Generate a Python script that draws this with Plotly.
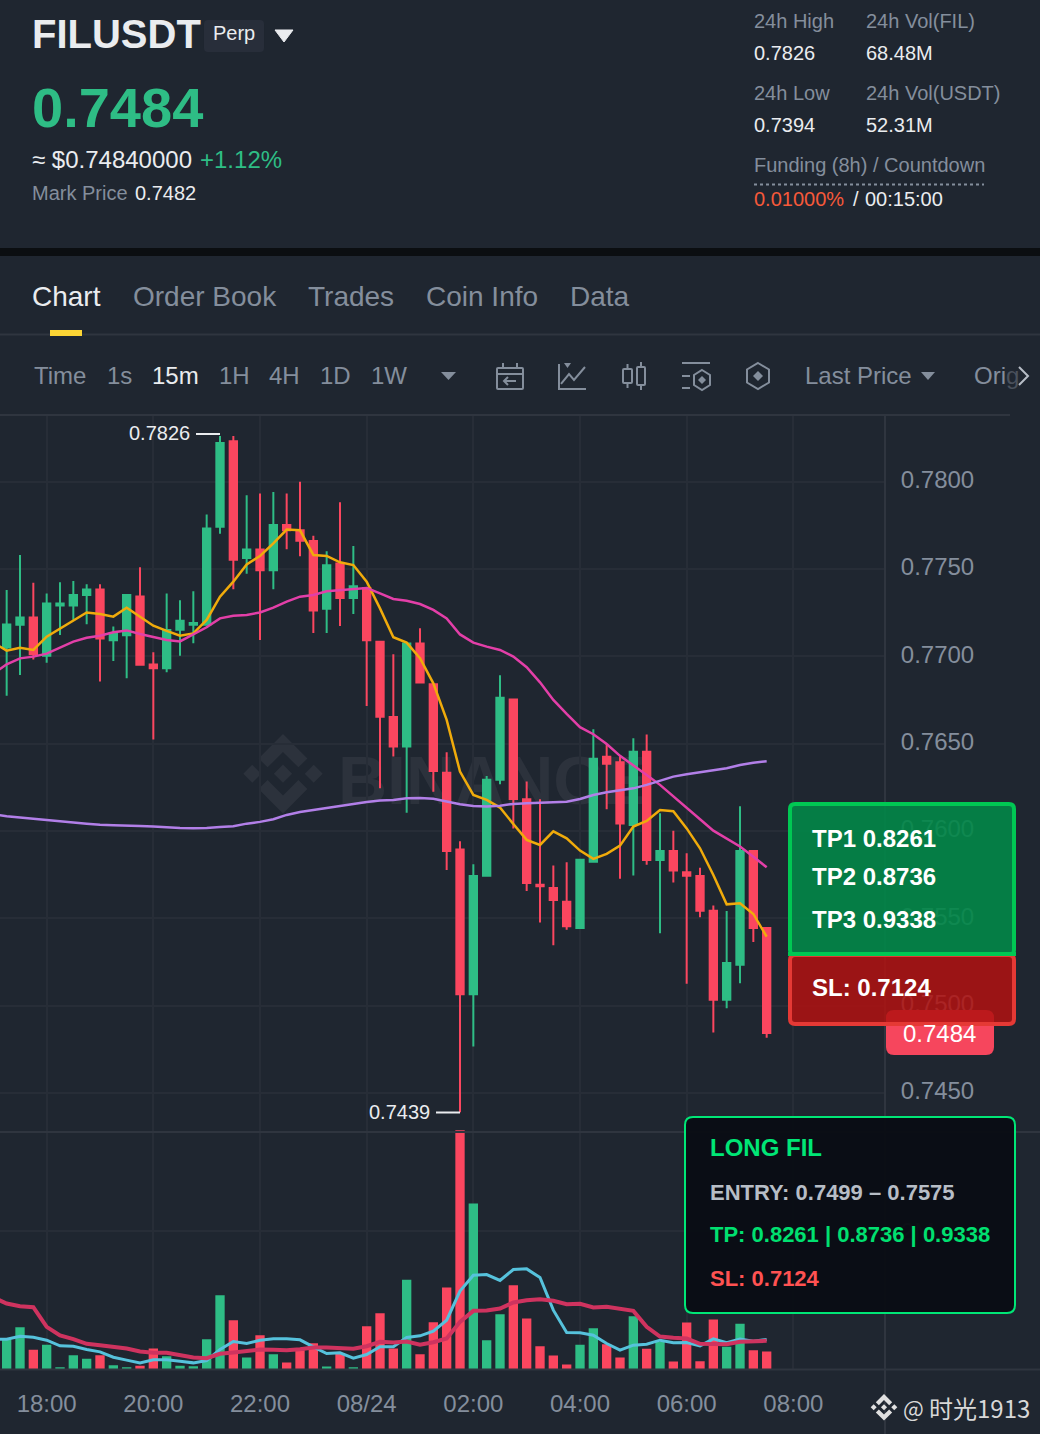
import pandas as pd
import plotly.graph_objects as go

W, H = 1040, 1434

BG = '#1f2630'
UP = '#2ebd85'
DOWN = '#fb465f'
GREY = '#848e9c'
LIGHT = '#eaecef'
GRID = '#272d37'
LINE = '#2f353f'

# 15 minute candles, first one at 17:15, last one at 07:30
times = pd.date_range('2025-08-23 17:15', periods=58, freq='15min')
ma_times = pd.date_range('2025-08-23 17:00', periods=59, freq='15min')

opens = [.77045, .77175, .77227, .76998, .77286, .77286, .77345, .77387, .77087, .77116,
         .77347, .76958, .76927, .77147, .77175, .77175, .77736, .78236, .77557, .77616,
         .77488, .77757, .77727, .77665, .77267, .77536, .77328, .77396, .77088, .76658,
         .76479, .77078, .76845, .76338, .75899, .75060, .75739, .76288, .76758, .76187,
         .75697, .75678, .75600, .75439, .75819, .76430, .76399, .76029, .76458, .75829,
         .75890, .75769, .75748, .75548, .75029, .75229, .75890, .75449]
highs = [.77379, .77580, .77421, .77360, .77423, .77431, .77412, .77412, .77171, .77356,
         .77509, .77023, .77360, .77320, .77372, .77812, .78261, .78261, .77921, .77931,
         .77940, .77931, .77999, .77690, .77601, .77881, .77631, .77396, .77088, .77011,
         .77078, .77160, .76845, .76451, .75941, .75809, .76315, .76891, .76758, .76283,
         .76181, .75802, .75821, .75840, .76582, .76498, .76426, .76531, .76552, .76101,
         .76002, .75872, .75790, .75573, .75542, .76141, .75890, .75449]
lows = [.76774, .76893, .76982, .76963, .77122, .77209, .77183, .76855, .76973, .76874,
        .76946, .76523, .76908, .77003, .77074, .77175, .77702, .77383, .77473, .77093,
        .77383, .77612, .77572, .77133, .77133, .77173, .77242, .76715, .76244, .76426,
        .76105, .76845, .76225, .75777, .7439, .74766, .75739, .76267, .76014, .75657,
        .75476, .75346, .75435, .75439, .75819, .76124, .75727, .75745, .75806, .75414,
        .75705, .75126, .75506, .74846, .74985, .75128, .75365, .74817]
closes = [.77187, .77227, .77007, .77307, .77307, .77356, .77387, .77097, .77137, .77356,
          .76946, .76927, .77156, .77208, .77196, .77736, .78226, .77547, .77616, .77488,
          .77757, .77717, .77656, .77257, .77526, .77328, .77406, .77087, .76649, .76479,
          .77078, .76845, .76338, .75880, .75060, .75748, .76298, .76767, .76178, .75697,
          .75678, .75600, .75449, .75840, .76418, .76380, .76038, .76458, .75829, .75890,
          .75769, .75739, .75538, .75029, .75250, .75890, .75439, .74838]

ma7 = [.77078, .77032, .77049, .77036, .77112, .77160, .77204, .77251, .77242, .77227, .77278,
       .77229, .77175, .77145, .77118, .77131, .77208, .77341, .77427, .77526, .77574,
       .77646, .77725, .77721, .77580, .77574, .77538, .77522, .77427, .77274, .77109,
       .77078, .76989, .76845, .76636, .76340, .76206, .76178, .76134, .76040, .75949,
       .75920, .75998, .75958, .75888, .75840, .75869, .75916, .76025, .76057, .76120,
       .76113, .76015, .75901, .75748, .75580, .75586, .75525, .75395]
ma25 = [.76900, .76954, .76988, .76998, .77015, .77051, .77084, .77106, .77118, .77137, .77148,
        .77127, .77108, .77093, .77085, .77127, .77166, .77217, .77232, .77236, .77251,
        .77278, .77313, .77341, .77351, .77372, .77379, .77387, .77391, .77360, .77328,
        .77318, .77299, .77265, .77217, .77125, .77078, .77055, .77036, .76998, .76937,
        .76851, .76750, .76670, .76594, .76554, .76498, .76430, .76378, .76321, .76264,
        .76197, .76130, .76067, .76002, .75958, .75911, .75853, .75792]
ma99 = [.76096, .76084, .76077, .76069, .76065, .76056, .76048, .76042, .76035, .76033, .76033,
        .76029, .76025, .76019, .76017, .76016, .76017, .76023, .76027, .76042, .76052,
        .76067, .76092, .76109, .76121, .76132, .76143, .76157, .76166, .76174, .76178,
        .76187, .76189, .76185, .76168, .76153, .76143, .76140, .76145, .76155, .76159,
        .76162, .76164, .76168, .76183, .76206, .76222, .76231, .76244, .76264, .76288,
        .76311, .76325, .76336, .76347, .76359, .76378, .76391, .76399]

# volume in millions
volumes = [.439, .612, .284, .357, .034, .207, .154, .207, .063, .034,
           .053, .304, .193, .053, .048, .439, 1.075, .713, .173, .496,
           .222, .101, .280, .381, .043, .231, .034, .627, .814, .304,
           1.296, .222, .684, 1.185, 3.460, 2.400, .424, .800, 1.219, .737,
           .337, .202, .072, .357, .598, .366, .173, .771, .299, .400,
           .116, .680, .120, .723, .328, .660, .280, .260]
vol_fast = [.439, .439, .482, .467, .424, .342, .337, .289, .255, .178, .135,
            .096, .140, .140, .120, .096, .130, .289, .405, .376, .424,
            .443, .443, .429, .328, .231, .241, .164, .217, .328, .328,
            .463, .487, .554, .713, 1.133, 1.364, 1.373, 1.287, 1.446, 1.455,
            1.330, .858, .535, .530, .496, .376, .280, .352, .366, .424,
            .386, .390, .342, .443, .386, .439, .410, .434]
vol_slow = [1.041, .954, .916, .901, .617, .492, .439, .371, .352, .333, .304,
            .260, .241, .241, .202, .173, .164, .227, .246, .265, .289,
            .284, .280, .294, .318, .318, .313, .299, .337, .400, .390,
            .405, .357, .395, .448, .689, .848, .853, .882, .969, 1.002,
            1.017, .993, .945, .949, .896, .906, .872, .848, .617, .477,
            .458, .448, .371, .371, .366, .400, .414, .414]

price_ticks = [.745, .75, .755, .76, .765, .77, .775, .78]
time_ticks = ['2025-08-23 18:00', '2025-08-23 20:00', '2025-08-23 22:00', '2025-08-24 00:00',
              '2025-08-24 02:00', '2025-08-24 04:00', '2025-08-24 06:00', '2025-08-24 08:00']
time_labels = ['18:00', '20:00', '22:00', '08/24', '02:00', '04:00', '06:00', '08:00']


def px(x):
    return x / W


def py(y):
    return 1 - y / H


def pts(points, close=False):
    d = 'M' + ' L'.join(f'{px(x):.5f},{py(y):.5f}' for x, y in points)
    return d + (' Z' if close else '')


def rrect(x0, y0, x1, y1, r):
    c = lambda x, y: f'{px(x):.5f},{py(y):.5f}'
    return (f'M{c(x0 + r, y0)} L{c(x1 - r, y0)} Q{c(x1, y0)} {c(x1, y0 + r)} '
            f'L{c(x1, y1 - r)} Q{c(x1, y1)} {c(x1 - r, y1)} '
            f'L{c(x0 + r, y1)} Q{c(x0, y1)} {c(x0, y1 - r)} '
            f'L{c(x0, y0 + r)} Q{c(x0, y0)} {c(x0 + r, y0)} Z')


shapes = []
annotations = []


def path(d, fill=None, color=None, width=0, layer='above'):
    shapes.append(dict(type='path', xref='paper', yref='paper', path=d, layer=layer,
                       fillcolor=fill if fill else 'rgba(0,0,0,0)',
                       line=dict(color=color if color else 'rgba(0,0,0,0)', width=width)))


def hline(x0, x1, y, color=LINE, width=2, dash='solid', layer='above'):
    shapes.append(dict(type='line', xref='paper', yref='paper', layer=layer,
                       x0=px(x0), x1=px(x1), y0=py(y), y1=py(y),
                       line=dict(color=color, width=width, dash=dash)))


def label(text, x, y, size, color=LIGHT, bold=False, anchor='left', family='Liberation Sans'):
    # annotations keep about 1px of padding, hence x - 1
    annotations.append(dict(text=f'<b>{text}</b>' if bold else text, x=px(x - 1), y=py(y),
                            xref='paper', yref='paper', xanchor=anchor, yanchor='middle',
                            showarrow=False, borderpad=0,
                            font=dict(size=size, color=color, family=family)))


def logo(x0, y0, s, fill, layer='above'):
    parts = [
        [(38.73, 53.2), (63.31, 28.63), (87.9, 53.22), (102.2, 38.92), (63.31, 0), (24.42, 38.9)],
        [(0, 63.31), (14.3, 49), (28.61, 63.3), (14.3, 77.6)],
        [(38.73, 73.41), (63.31, 97.99), (87.9, 73.41), (102.2, 87.7), (63.31, 126.61), (24.42, 87.7)],
        [(98, 63.31), (112.3, 49), (126.61, 63.31), (112.3, 77.61)],
        [(77.83, 63.3), (63.31, 48.78), (48.79, 63.28), (63.31, 77.79)],
    ]
    for part in parts:
        path(pts([(x0 + a * s, y0 + b * s) for a, b in part], close=True), fill=fill, layer=layer)


# header
shapes.append(dict(type='rect', xref='paper', yref='paper', x0=0, x1=1, y0=py(256), y1=py(248),
                   fillcolor='#0b0e11', line_width=0, layer='below'))
label('FILUSDT', 32, 34, 40, '#eaecef', bold=True)
path(rrect(204, 20, 264, 52, 4), fill='#282e3a')
label('Perp', 213, 33, 20, LIGHT)
path(pts([(275, 30), (293, 30), (284, 42)], close=True), fill=LIGHT, color=LIGHT, width=1)
label('0.7484', 32, 108, 56, UP, bold=True)
label('≈ $0.74840000', 32, 160, 24, LIGHT)
label('+1.12%', 200, 160, 24, UP)
label('Mark Price', 32, 193, 20, GREY)
label('0.7482', 135, 193, 20, LIGHT)

label('24h High', 754, 21, 20, GREY)
label('0.7826', 754, 53, 20, LIGHT)
label('24h Vol(FIL)', 866, 21, 20, GREY)
label('68.48M', 866, 53, 20, LIGHT)
label('24h Low', 754, 93, 20, GREY)
label('0.7394', 754, 125, 20, LIGHT)
label('24h Vol(USDT)', 866, 93, 20, GREY)
label('52.31M', 866, 125, 20, LIGHT)
label('Funding (8h) / Countdown', 754, 165, 20, GREY)
hline(754, 984, 184.5, color=GREY, width=2, dash='dot')
label('0.01000%', 754, 199, 20, '#f6593a')
label('/', 853, 199, 20, LIGHT)
label('00:15:00', 865, 199, 20, LIGHT)

# tabs
label('Chart', 32, 296, 28, LIGHT)
label('Order Book', 133, 296, 28, GREY)
label('Trades', 308, 296, 28, GREY)
label('Coin Info', 426, 296, 28, GREY)
label('Data', 570, 296, 28, GREY)
hline(0, 1040, 334.5)
path(pts([(50, 330), (82, 330), (82, 336), (50, 336)], close=True), fill='#fcd535')

# toolbar
label('Time', 34, 375, 24, GREY)
label('1s', 107, 375, 24, GREY)
label('15m', 152, 375, 24, LIGHT)
label('1H', 219, 375, 24, GREY)
label('4H', 269, 375, 24, GREY)
label('1D', 320, 375, 24, GREY)
label('1W', 371, 375, 24, GREY)
label('Last Price', 805, 375, 24, GREY)
label('Ori<span style="color:#4a515c">g</span>', 974, 375, 24, GREY)
path(pts([(441, 372), (456, 372), (448.5, 380)], close=True), fill=GREY)
path(pts([(921, 372), (935, 372), (928, 380)], close=True), fill=GREY)
path(pts([(1019, 367), (1028, 376), (1019, 385)]), color='#b7bdc6', width=2)

# calendar icon
path(rrect(497, 368, 523, 389, 1), color=GREY, width=2)
hline(497, 523, 374, color=GREY, width=2)
path(pts([(503, 363), (503, 368)]), color=GREY, width=2)
path(pts([(517, 363), (517, 368)]), color=GREY, width=2)
path(pts([(516, 381), (504, 381)]), color=GREY, width=2)
path(pts([(508, 377), (504, 381), (508, 385)]), color=GREY, width=2)
# line chart icon
path(pts([(559, 364), (559, 389), (586, 389)]), color=GREY, width=2)
path(pts([(564, 363), (571, 363), (567.5, 368)], close=True), fill=GREY)
path(pts([(561, 384), (569, 374), (574, 380), (585, 367)]), color=GREY, width=2)
# candle icon
path(rrect(623, 369, 632, 383, 1), color=GREY, width=2)
path(pts([(627.5, 364), (627.5, 369)]), color=GREY, width=2)
path(pts([(627.5, 383), (627.5, 388)]), color=GREY, width=2)
path(rrect(637, 367, 645, 385, 1), color=GREY, width=2)
path(pts([(641, 362), (641, 367)]), color=GREY, width=2)
path(pts([(641, 385), (641, 390)]), color=GREY, width=2)
# settings icon
hline(682, 710, 363, color=GREY, width=2)
hline(682, 690, 376, color=GREY, width=2)
hline(682, 690, 388, color=GREY, width=2)
path(pts([(702, 370), (710, 375), (710, 385), (702, 390), (694, 385), (694, 375)], close=True), color=GREY, width=2)
path(pts([(702, 376), (706, 380), (702, 384), (698, 380)], close=True), fill=GREY)
# depth icon
path(pts([(758, 363), (769, 369.5), (769, 382.5), (758, 389), (747, 382.5), (747, 369.5)], close=True), color=GREY, width=2)
path(pts([(758, 371), (763, 376), (758, 381), (753, 376)], close=True), fill=GREY)

# watermark, under the candles
logo(243.3, 734, 0.627, '#2c323c', layer='below')
shapes.append(dict(type='rect', xref='paper', yref='paper', x0=px(332), x1=px(640), y0=py(802), y1=py(746),
                   line_width=0, fillcolor='rgba(0,0,0,0)', layer='below',
                   label=dict(text='<b>BINANCE</b>', textposition='middle left',
                              font=dict(size=68, color='#2c323c', family='Liberation Sans'))))

# panel lines
hline(0, 1010, 415)
hline(0, 1040, 1132)
hline(0, 1040, 1369.5)
shapes.append(dict(type='line', xref='paper', yref='paper', x0=px(885), x1=px(885), y0=py(415), y1=0,
                   line=dict(color=LINE, width=2), layer='above'))

# high / low markers
label('0.7826', 129, 433, 20, LIGHT)
hline(196, 220, 434, color=LIGHT, width=2)
label('0.7439', 369, 1112, 20, LIGHT)
hline(436, 460, 1112.5, color=LIGHT, width=2)

# last price tag
path(rrect(886, 1010, 994, 1055, 8), fill='#f6465d')
label('0.7484', 940, 1033, 24, '#ffffff', anchor='center')

# target boxes
path(rrect(790, 804, 1014, 955, 5), fill='rgba(2,135,72,0.9)', color='#00c853', width=4)
path(rrect(790, 955, 1014, 1024, 5), fill='rgba(177,18,16,0.85)', color='#e53935', width=4)
hline(788, 1016, 954, color='#00c853', width=4)
label('TP1 0.8261', 812, 838, 24, '#ffffff', bold=True)
label('TP2 0.8736', 812, 877, 24, '#ffffff', bold=True)
label('TP3 0.9338', 812, 919, 24, '#ffffff', bold=True)
label('SL: 0.7124', 812, 987, 24, '#ffffff', bold=True)

path(rrect(685, 1117, 1015, 1313, 8), fill='rgba(10,13,20,0.98)', color='#00e676', width=2)
label('LONG FIL', 710, 1147, 24, '#00e676', bold=True)
label('ENTRY: 0.7499 – 0.7575', 710, 1192, 22, '#b7bdc6', bold=True)
label('TP: 0.8261 | 0.8736 | 0.9338', 710, 1234, 22, '#00e070', bold=True)
label('SL: 0.7124', 710, 1278, 22, '#ff5252', bold=True)

# credit
logo(870.7, 1394, 0.21, '#e0e0e0')
label('@', 903, 1407, 22, '#d8d8d8', family='Noto Sans CJK SC')
label('时光1913', 929, 1407, 24, '#d8d8d8', family='Noto Sans CJK SC')

# the 2px candle outline grows each body by 1px at both ends, pull them back in
inset = 0.00005
body_opens = [o - inset if c < o else o + inset for o, c in zip(opens, closes)]
body_closes = [c + inset if c < o else c - inset for o, c in zip(opens, closes)]

fig = go.Figure()
fig.add_trace(go.Candlestick(
    x=times, open=body_opens, high=highs, low=lows, close=body_closes,
    whiskerwidth=0, showlegend=False,
    increasing=dict(line=dict(color=UP, width=2), fillcolor=UP),
    decreasing=dict(line=dict(color=DOWN, width=2), fillcolor=DOWN),
    xaxis='x', yaxis='y',
))
for name, values, color in [('MA7', ma7, '#f0ab0b'), ('MA25', ma25, '#e33fa8'), ('MA99', ma99, '#b27fe8')]:
    fig.add_trace(go.Scatter(x=ma_times, y=values, mode='lines', name=name, showlegend=False,
                             line=dict(color=color, width=2.5), xaxis='x', yaxis='y'))

fig.add_trace(go.Bar(
    x=times, y=volumes, width=630000, showlegend=False,
    marker=dict(color=[UP if c >= o else DOWN for o, c in zip(opens, closes)], line_width=0),
    xaxis='x2', yaxis='y2',
))
fig.add_trace(go.Scatter(x=ma_times, y=vol_fast, mode='lines', showlegend=False,
                         line=dict(color='#56c2dc', width=3), xaxis='x2', yaxis='y2'))
fig.add_trace(go.Scatter(x=ma_times, y=vol_slow, mode='lines', showlegend=False,
                         line=dict(color='#cf335f', width=4), xaxis='x2', yaxis='y2'))

x_range = ['2025-08-23 17:07:30', '2025-08-24 09:43:07']
axis_font = dict(size=24, color=GREY, family='Liberation Sans')

fig.update_layout(
    width=W, height=H,
    margin=dict(l=0, r=0, t=0, b=0),
    paper_bgcolor=BG, plot_bgcolor=BG,
    showlegend=False,
    hovermode=False,
    boxgap=0.45,
    boxgroupgap=0,
    font=dict(family='Liberation Sans'),
    shapes=shapes,
    annotations=annotations,
    xaxis=dict(domain=[0, px(885)], range=x_range, anchor='y', type='date',
               tickvals=time_ticks, ticktext=time_labels, showticklabels=False,
               showgrid=True, gridcolor=GRID, gridwidth=2, zeroline=False, ticks='',
               rangeslider=dict(visible=False)),
    yaxis=dict(domain=[py(1132), py(415)], range=[0.74277, 0.78381], side='right', anchor='x',
               tickvals=price_ticks, tickformat='.4f', tickfont=axis_font,
               ticks='outside', ticklen=10, tickcolor='rgba(0,0,0,0)', ticklabelshift=-2,
               showgrid=True, gridcolor=GRID, gridwidth=2, zeroline=False),
    xaxis2=dict(domain=[0, px(885)], range=x_range, anchor='y2', type='date',
                tickvals=time_ticks, ticktext=time_labels, tickfont=axis_font,
                ticks='outside', ticklen=13, tickcolor='rgba(0,0,0,0)',
                showgrid=True, gridcolor=GRID, gridwidth=2, zeroline=False),
    yaxis2=dict(domain=[py(1369.5), py(1130)], range=[0, 3.463], side='right', anchor='x2',
                tickvals=[2], ticktext=['2M'], tickfont=axis_font,
                ticks='outside', ticklen=10, tickcolor='rgba(0,0,0,0)',
                showgrid=True, gridcolor=GRID, gridwidth=2, zeroline=False),
)

fig.write_html("out.html", post_script="document.body.style.margin='0';",
               config={'displayModeBar': False})
